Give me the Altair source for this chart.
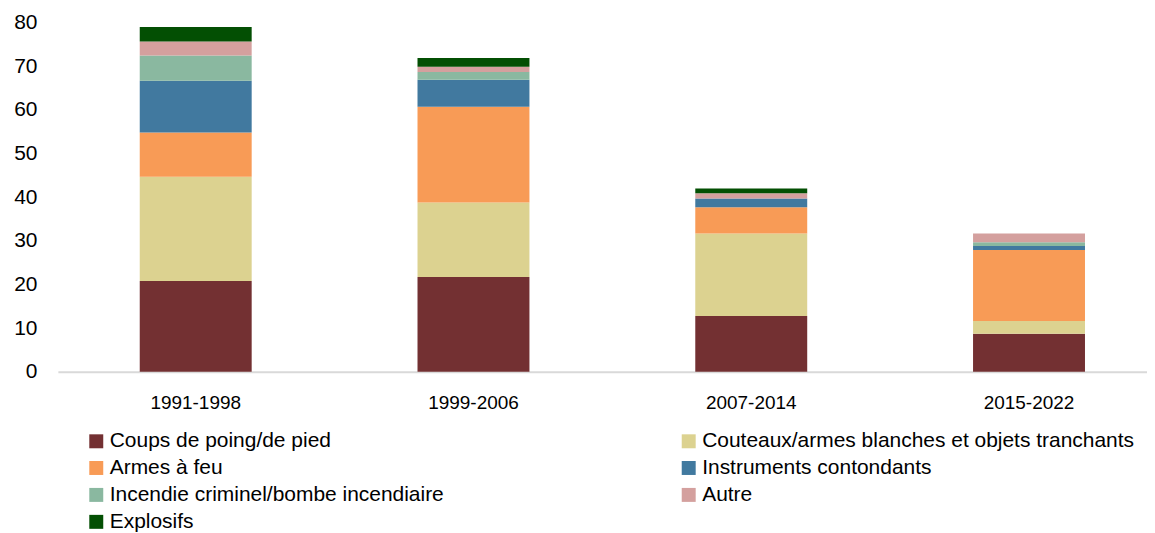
import altair as alt
import pandas as pd

periods = ["1991-1998", "1999-2006", "2007-2014", "2015-2022"]
categories = [
    "Coups de poing/de pied",
    "Couteaux/armes blanches et objets tranchants",
    "Armes à feu",
    "Instruments contondants",
    "Incendie criminel/bombe incendiaire",
    "Autre",
    "Explosifs",
]
coups = [20.8, 21.7, 12.8, 8.7]
couteaux = [23.9, 17.1, 18.9, 2.9]
armes = [10.1, 21.9, 6.0, 16.3]
instruments = [11.9, 6.2, 2.0, 0.9]
incendie = [5.8, 1.8, 0.0, 0.9]
autre = [3.2, 1.2, 1.2, 2.0]
explosifs = [3.3, 2.0, 1.1, 0.0]
colors = ["#733032", "#DCD290", "#F89B56", "#41799F", "#8AB8A0", "#D4A09E", "#034F03"]

series = [coups, couteaux, armes, instruments, incendie, autre, explosifs]
rows = []
for ci, (cat, vals) in enumerate(zip(categories, series)):
    for p, v in zip(periods, vals):
        rows.append({"period": p, "category": cat, "value": v, "idx": ci})
df = pd.DataFrame(rows)

FONT = "Liberation Sans"

chart = alt.Chart(df).mark_bar().encode(
    x=alt.X(
        "period:N",
        sort=periods,
        title=None,
        scale=alt.Scale(paddingInner=0.597, paddingOuter=0.259, align=0.569),
        axis=alt.Axis(
            labelAngle=0,
            ticks=False,
            domainColor="#d9d9d9",
            domainWidth=2,
            labelFontSize=19,
            labelPadding=22,
            labelColor="#000000",
            labelFont=FONT,
        ),
    ),
    y=alt.Y(
        "value:Q",
        stack="zero",
        title=None,
        scale=alt.Scale(domain=[0, 80], nice=False),
        axis=alt.Axis(
            values=[0, 10, 20, 30, 40, 50, 60, 70, 80],
            domain=False,
            ticks=False,
            grid=False,
            labelFontSize=21,
            labelPadding=21,
            labelColor="#000000",
            labelFont=FONT,
        ),
    ),
    color=alt.Color(
        "category:N",
        sort=categories,
        scale=alt.Scale(domain=categories, range=colors),
        legend=alt.Legend(
            title=None,
            orient="none",
            direction="horizontal",
            legendX=28,
            legendY=409,
            columns=2,
            columnPadding=234,
            rowPadding=5,
            symbolType="square",
            symbolSize=196,
            symbolStrokeWidth=0,
            symbolOpacity=1,
            labelFontSize=21,
            labelFont=FONT,
            labelColor="#000000",
            labelOffset=3,
            labelLimit=600,
            padding=0,
        ),
    ),
    order=alt.Order("idx:Q", sort="ascending"),
).properties(
    width=1092,
    height=350,
    padding={"left": 5, "top": 3, "right": 0, "bottom": 0},
).configure_view(stroke=None)

chart.save("out.html", embed_options={"renderer": "svg", "actions": False})
